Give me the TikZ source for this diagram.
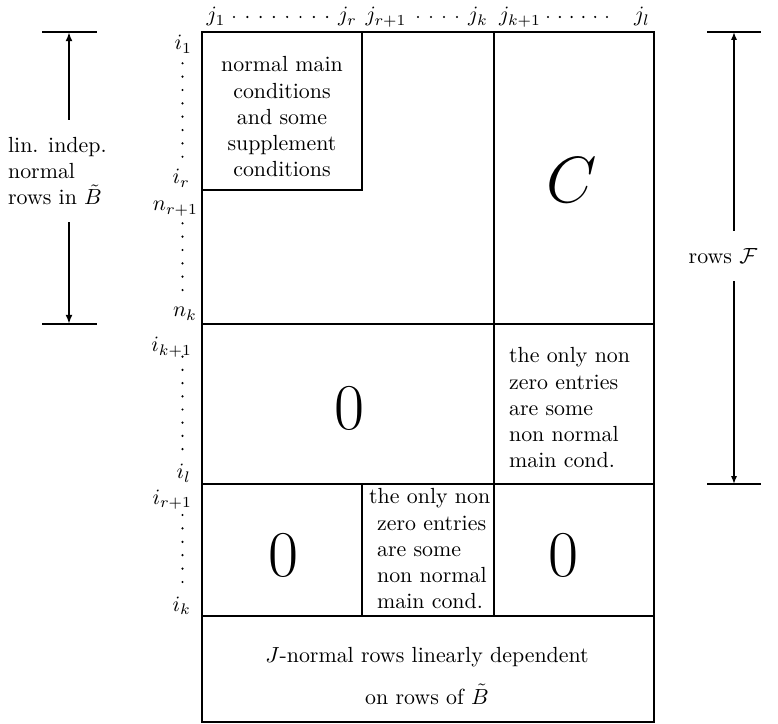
\documentclass[tikz,border=0pt]{standalone}
\usepackage{amsmath,amssymb}
\usepackage{graphicx}
\usetikzlibrary{arrows.meta}

\newcommand{\bigsym}[1]{\scalebox{1.2}{\Huge$#1$}}

\begin{document}
\begin{tikzpicture}[x=0.457pt,y=-0.457pt,line width=1pt,>={Latex[length=3.6pt,width=2.8pt]},
  rowlab/.style={anchor=base east,inner sep=0pt},
  collab/.style={anchor=base,inner sep=0pt},
  celltext/.style={inner sep=0pt,align=center},
  sidelab/.style={inner xsep=0pt,inner ysep=7.5pt}]
  \useasboundingbox (0,0) rectangle (778,724);

  \draw (202,32) rectangle (654,722);
  \draw (202,324) -- (654,324);
  \draw (202,484) -- (654,484);
  \draw (202,616) -- (654,616);
  \draw (494,32) -- (494,616);
  \draw (202,190) -- (362,190) -- (362,32);
  \draw (362,484) -- (362,616);

  \node[collab] (j1) at (216,22) {$j_1$};
  \node[collab] (jr) at (347.5,22) {$j_r$};
  \node[collab] (jr1) at (386,22) {$j_{r+1}$};
  \node[collab] (jk) at (478,22) {$j_k$};
  \node[collab] (jk1) at (520,22) {$j_{k+1}$};
  \node[collab] (jl) at (642,22) {$j_l$};
  \foreach \x in {234,247.3,...,328} \fill (\x,17) circle (0.55pt);
  \foreach \x in {418,431,...,458} \fill (\x,17) circle (0.55pt);
  \foreach \x in {548,559.8,...,608} \fill (\x,17) circle (0.55pt);

  \node[rowlab] (ri1) at (193,50) {$i_1$};
  \node[rowlab] (rir) at (191,184) {$i_r$};
  \node[rowlab] (rnr1) at (199,211) {$n_{r+1}$};
  \node[rowlab] (rnk) at (198,317) {$n_k$};
  \node[rowlab] (rik1) at (193,352) {$i_{k+1}$};
  \node[rowlab] (ril) at (192,479) {$i_l$};
  \node[rowlab] (rir1) at (193,504) {$i_{r+1}$};
  \node[rowlab] (rik) at (192,611) {$i_k$};
  \foreach \y in {63.3,76.65,...,157.5} \fill (182.5,\y) circle (0.55pt);
  \foreach \y in {223.3,236.65,...,291} \fill (182.5,\y) circle (0.55pt);
  \foreach \y in {356.7,369.9,...,450} \fill (182.5,\y) circle (0.55pt);
  \foreach \y in {515,528.4,...,583} \fill (182.5,\y) circle (0.55pt);

  \node[celltext] (topleft) at (282,117)
       {normal main\\conditions\\and some\\supplement\\conditions};
  \node (bigC) at (572,180) {\bigsym{C}};
  \node (zeromid) at (349,408) {\bigsym{0}};
  \node (zerobl) at (283,555) {\bigsym{0}};
  \node (zerobr) at (563,555) {\bigsym{0}};
  \node[celltext,align=left,anchor=west] (nonzeroR) at (508,408)
       {the only non\\zero entries\\are some\\non normal\\main cond.};
  \node[celltext,align=left,anchor=west] (nonzeroB) at (376,549)
       {\hspace*{-3.6pt}the only non\\zero entries\\are some\\non normal\\main cond.};
  \node[celltext] (dependent) at (427,676)
       {$J$-normal rows linearly dependent\\[7pt]on rows of $\tilde{B}$};

  \node[sidelab,align=left,anchor=west] (leftlab) at (7,171)
       {lin. indep.\\normal\\rows in $\tilde{B}$};
  \coordinate (ltop) at (69,32);
  \coordinate (lbot) at (69,324);
  \draw[line width=1.2pt] (42,32) -- (97,32);
  \draw[line width=1.2pt] (42,324) -- (97,324);
  \draw[-{Latex[length=4.2pt,width=3.2pt]},line width=1.2pt] (leftlab.north -| ltop) -- (ltop);
  \draw[-{Latex[length=4.2pt,width=3.2pt]},line width=1.2pt] (leftlab.south -| lbot) -- (lbot);

  \node[sidelab] (rowsF) at (723,256) {rows $\mathcal{F}$};
  \coordinate (rtop) at (734,32);
  \coordinate (rbot) at (734,484);
  \draw (707,32) -- (761,32);
  \draw (707,484) -- (761,484);
  \draw[->] (rowsF.north -| rtop) -- (rtop);
  \draw[->] (rowsF.south -| rbot) -- (rbot);
\end{tikzpicture}
\end{document}
